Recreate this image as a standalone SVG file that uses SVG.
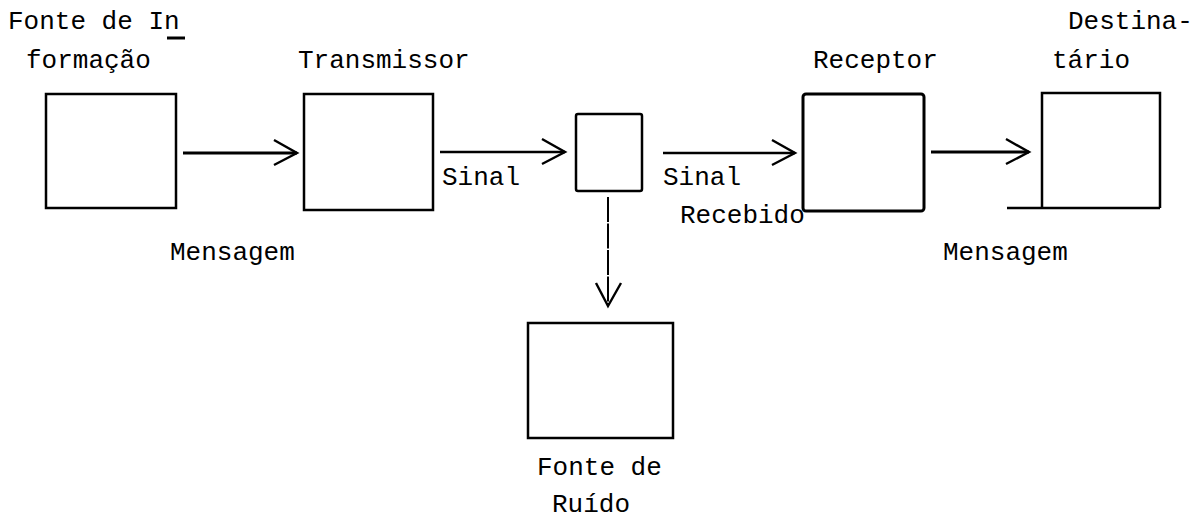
<svg xmlns="http://www.w3.org/2000/svg" width="1203" height="530" viewBox="0 0 1203 530">
<defs>
<style>
.box{fill:none;stroke:#000;stroke-width:2.5}
.conn{fill:none;stroke:#000;stroke-width:2.6}
.lbl{font-family:"Liberation Mono","DejaVu Sans Mono",monospace;font-size:26px;fill:#000}
</style>
<marker id="open" markerUnits="userSpaceOnUse" viewBox="-26 -16 30 32" refX="0" refY="0" markerWidth="30" markerHeight="32" orient="auto">
<path d="M-23,-13 L0,0 L-23,12" fill="none" stroke="#000" stroke-width="2.4"/>
</marker>
</defs>
<rect width="1203" height="530" fill="#fff"/>
<g id="fonte-informacao">
<rect class="box" x="46" y="94" width="130" height="114"/>
<text class="lbl" x="8" y="29">Fonte de In</text>
<line x1="167" y1="38" x2="185" y2="38" stroke="#000" stroke-width="3"/>
<text class="lbl" x="26" y="68">formação</text>
</g>
<g id="transmissor">
<rect class="box" x="304" y="94" width="129" height="116"/>
<text class="lbl" x="298" y="68">Transmissor</text>
</g>
<g id="canal">
<rect class="box" x="576" y="114" width="66" height="77" rx="2"/>
</g>
<g id="receptor">
<rect class="box" x="803" y="94" width="121" height="117" rx="3" style="stroke-width:3"/>
<text class="lbl" x="813" y="68">Receptor</text>
</g>
<g id="destinatario">
<path class="box" d="M1042,208 V93 H1160 V208 M1007,208 H1160"/>
<text class="lbl" x="1068" y="29">Destina-</text>
<text class="lbl" x="1052" y="68">tário</text>
</g>
<g id="fonte-ruido">
<rect class="box" x="528" y="323" width="145" height="115"/>
<text class="lbl" x="537" y="475">Fonte de</text>
<text class="lbl" x="552" y="512">Ruído</text>
</g>
<g id="connectors">
<line class="conn" x1="183" y1="153" x2="297" y2="153" marker-end="url(#open)" style="stroke-width:3"/>
<line class="conn" x1="440" y1="152" x2="565" y2="152" marker-end="url(#open)"/>
<line class="conn" x1="663" y1="153" x2="795" y2="153" marker-end="url(#open)"/>
<line class="conn" x1="931" y1="152" x2="1029" y2="152" marker-end="url(#open)" style="stroke-width:3.2"/>
<line class="conn" x1="608" y1="197" x2="608" y2="306" stroke-dasharray="25 1.5" marker-end="url(#open)" style="stroke-width:2"/>
</g>
<g id="labels">
<text class="lbl" x="442" y="185">Sinal</text>
<text class="lbl" x="663" y="185">Sinal</text>
<text class="lbl" x="680" y="223">Recebido</text>
<text class="lbl" x="170" y="260">Mensagem</text>
<text class="lbl" x="943" y="260">Mensagem</text>
</g>
</svg>
